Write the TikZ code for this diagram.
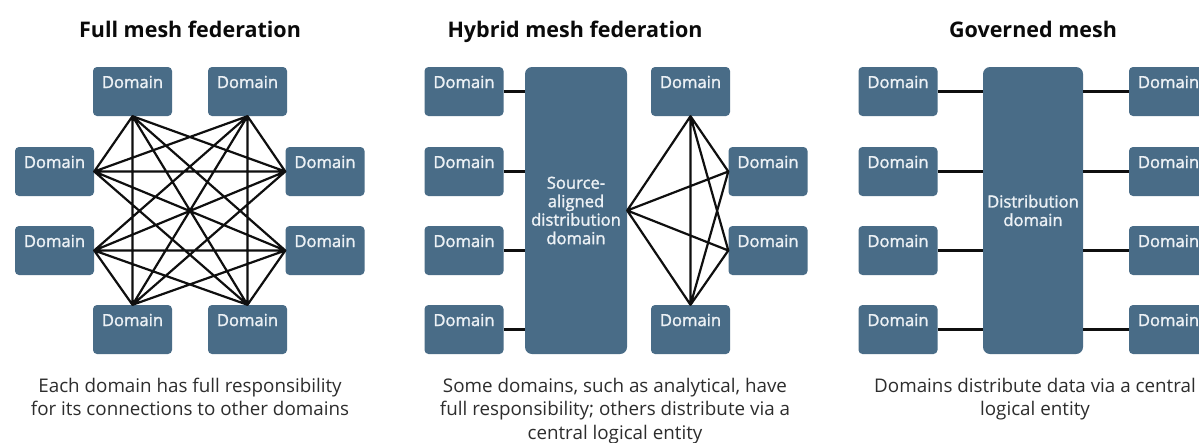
\documentclass[tikz,border=0pt]{standalone}
\usepackage{fontspec}
\setmainfont{Open Sans}
\newfontfamily\boxfont{Open Sans}[FakeBold=1.6]
\definecolor{boxblue}{RGB}{73,108,135}
\definecolor{boxtext}{RGB}{236,241,245}
\definecolor{linecol}{RGB}{15,15,15}
\definecolor{captext}{RGB}{45,45,45}
\definecolor{titletext}{RGB}{10,10,10}
\tikzset{
  dom/.style={rectangle, fill=boxblue, rounded corners=4pt, minimum width=79pt,
    inner xsep=0pt, inner ysep=0pt, text height=21pt, text depth=28pt,
    text=boxtext, font=\boxfont\fontsize{16.6}{17}\selectfont},
  hubbox/.style={rectangle, fill=boxblue, rounded corners=7pt, inner sep=0pt,
    minimum height=287pt, align=center, text=boxtext,
    font=\boxfont\fontsize{16.6}{18.5}\selectfont},
  link/.style={draw=linecol, line width=2.2pt},
  ttl/.style={anchor=base, text=titletext, font=\bfseries\fontsize{21.5}{24}\selectfont},
  capt/.style={anchor=base, align=center, text=captext, font=\fontsize{18.8}{23.5}\selectfont}
}
\begin{document}
\begin{tikzpicture}[x=1pt,y=-1pt]
\fill[white] (0,0) rectangle (1199,442);
\useasboundingbox (0,0) rectangle (1199,442);

% titles
\node[ttl] (t1) at (190,37) {Full mesh federation};
\node[ttl] (t2) at (575,37) {Hybrid mesh federation};
\node[ttl] (t3) at (1033,37) {Governed mesh};

% ---------- Panel 1: full mesh ----------
\node[dom] (fTL) at (132.5,91.5) {Domain};
\node[dom] (fTR) at (247.5,91.5) {Domain};
\node[dom] (fL1) at (54.5,171.5) {Domain};
\node[dom] (fL2) at (54.5,250.5) {Domain};
\node[dom] (fR1) at (325,171.5) {Domain};
\node[dom] (fR2) at (325,250.5) {Domain};
\node[dom] (fBL) at (132.5,329.5) {Domain};
\node[dom] (fBR) at (247.5,329.5) {Domain};

\draw[link, line cap=round]
  (fTL.south) -- (fL1.east)  (fTL.south) -- (fBL.north)
  (fTL.south) -- (fR1.west)  (fTL.south) -- (fR2.west)
  (fTL.south) -- (fBR.north)
  (fTR.south) -- (fR1.west)  (fTR.south) -- (fBR.north)
  (fTR.south) -- (fL1.east)  (fTR.south) -- (fL2.east)
  (fTR.south) -- (fBL.north)
  (fL1.east) -- (fR1.west)   (fL1.east) -- (fR2.west)
  (fL1.east) -- (fBR.north)
  (fL2.east) -- (fBL.north)  (fL2.east) -- (fBR.north)
  (fL2.east) -- (fR2.west)   (fL2.east) -- (fR1.west)
  (fR1.west) -- (fBL.north)
  (fR2.west) -- (fBR.north)  (fR2.west) -- (fBL.north);

% ---------- Panel 2: hybrid mesh ----------
\node[hubbox, minimum width=102pt] (hub2) at (576,210.5) {Source-\\aligned\\distribution\\domain};
\node[dom] (hL1) at (464,91.5) {Domain};
\node[dom] (hL2) at (464,171.5) {Domain};
\node[dom] (hL3) at (464,250.5) {Domain};
\node[dom] (hL4) at (464,329.5) {Domain};
\node[dom] (hT) at (690.5,91.5) {Domain};
\node[dom] (hR1) at (768,171.5) {Domain};
\node[dom] (hR2) at (768,250.5) {Domain};
\node[dom] (hB) at (690.5,329.5) {Domain};

\foreach \n in {hL1,hL2,hL3,hL4}
  \draw[link] (\n.east) -- (\n.east -| hub2.west);

\draw[link, line cap=round]
  (hub2.east) -- (hT.south)   (hub2.east) -- (hR1.west)
  (hub2.east) -- (hR2.west)   (hub2.east) -- (hB.north)
  (hT.south) -- (hB.north)
  (hT.south) -- (hR1.west)    (hT.south) -- (hR2.west)
  (hB.north) -- (hR1.west)    (hB.north) -- (hR2.west);

% ---------- Panel 3: governed mesh ----------
\node[hubbox, minimum width=100pt] (hub3) at (1033,210.5) {Distribution\\domain};
\node[dom] (gL1) at (898,91.5) {Domain};
\node[dom] (gL2) at (898,171.5) {Domain};
\node[dom] (gL3) at (898,250.5) {Domain};
\node[dom] (gL4) at (898,329.5) {Domain};
\node[dom] (gR1) at (1168.5,91.5) {Domain};
\node[dom] (gR2) at (1168.5,171.5) {Domain};
\node[dom] (gR3) at (1168.5,250.5) {Domain};
\node[dom] (gR4) at (1168.5,329.5) {Domain};

\foreach \n in {gL1,gL2,gL3,gL4}
  \draw[link] (\n.east) -- (\n.east -| hub3.west);
\foreach \n in {gR1,gR2,gR3,gR4}
  \draw[link] (\n.west) -- (\n.west -| hub3.east);

% captions (anchor = baseline of last line)
\node[capt] (c1) at (190,415.5) {Each domain has full responsibility\\for its connections to other domains};
\node[capt] (c2) at (615,439) {Some domains, such as analytical, have\\full responsibility; others distribute via a\\central logical entity};
\node[capt] (c3) at (1035,415.5) {Domains distribute data via a central\\logical entity};
\end{tikzpicture}
\end{document}
